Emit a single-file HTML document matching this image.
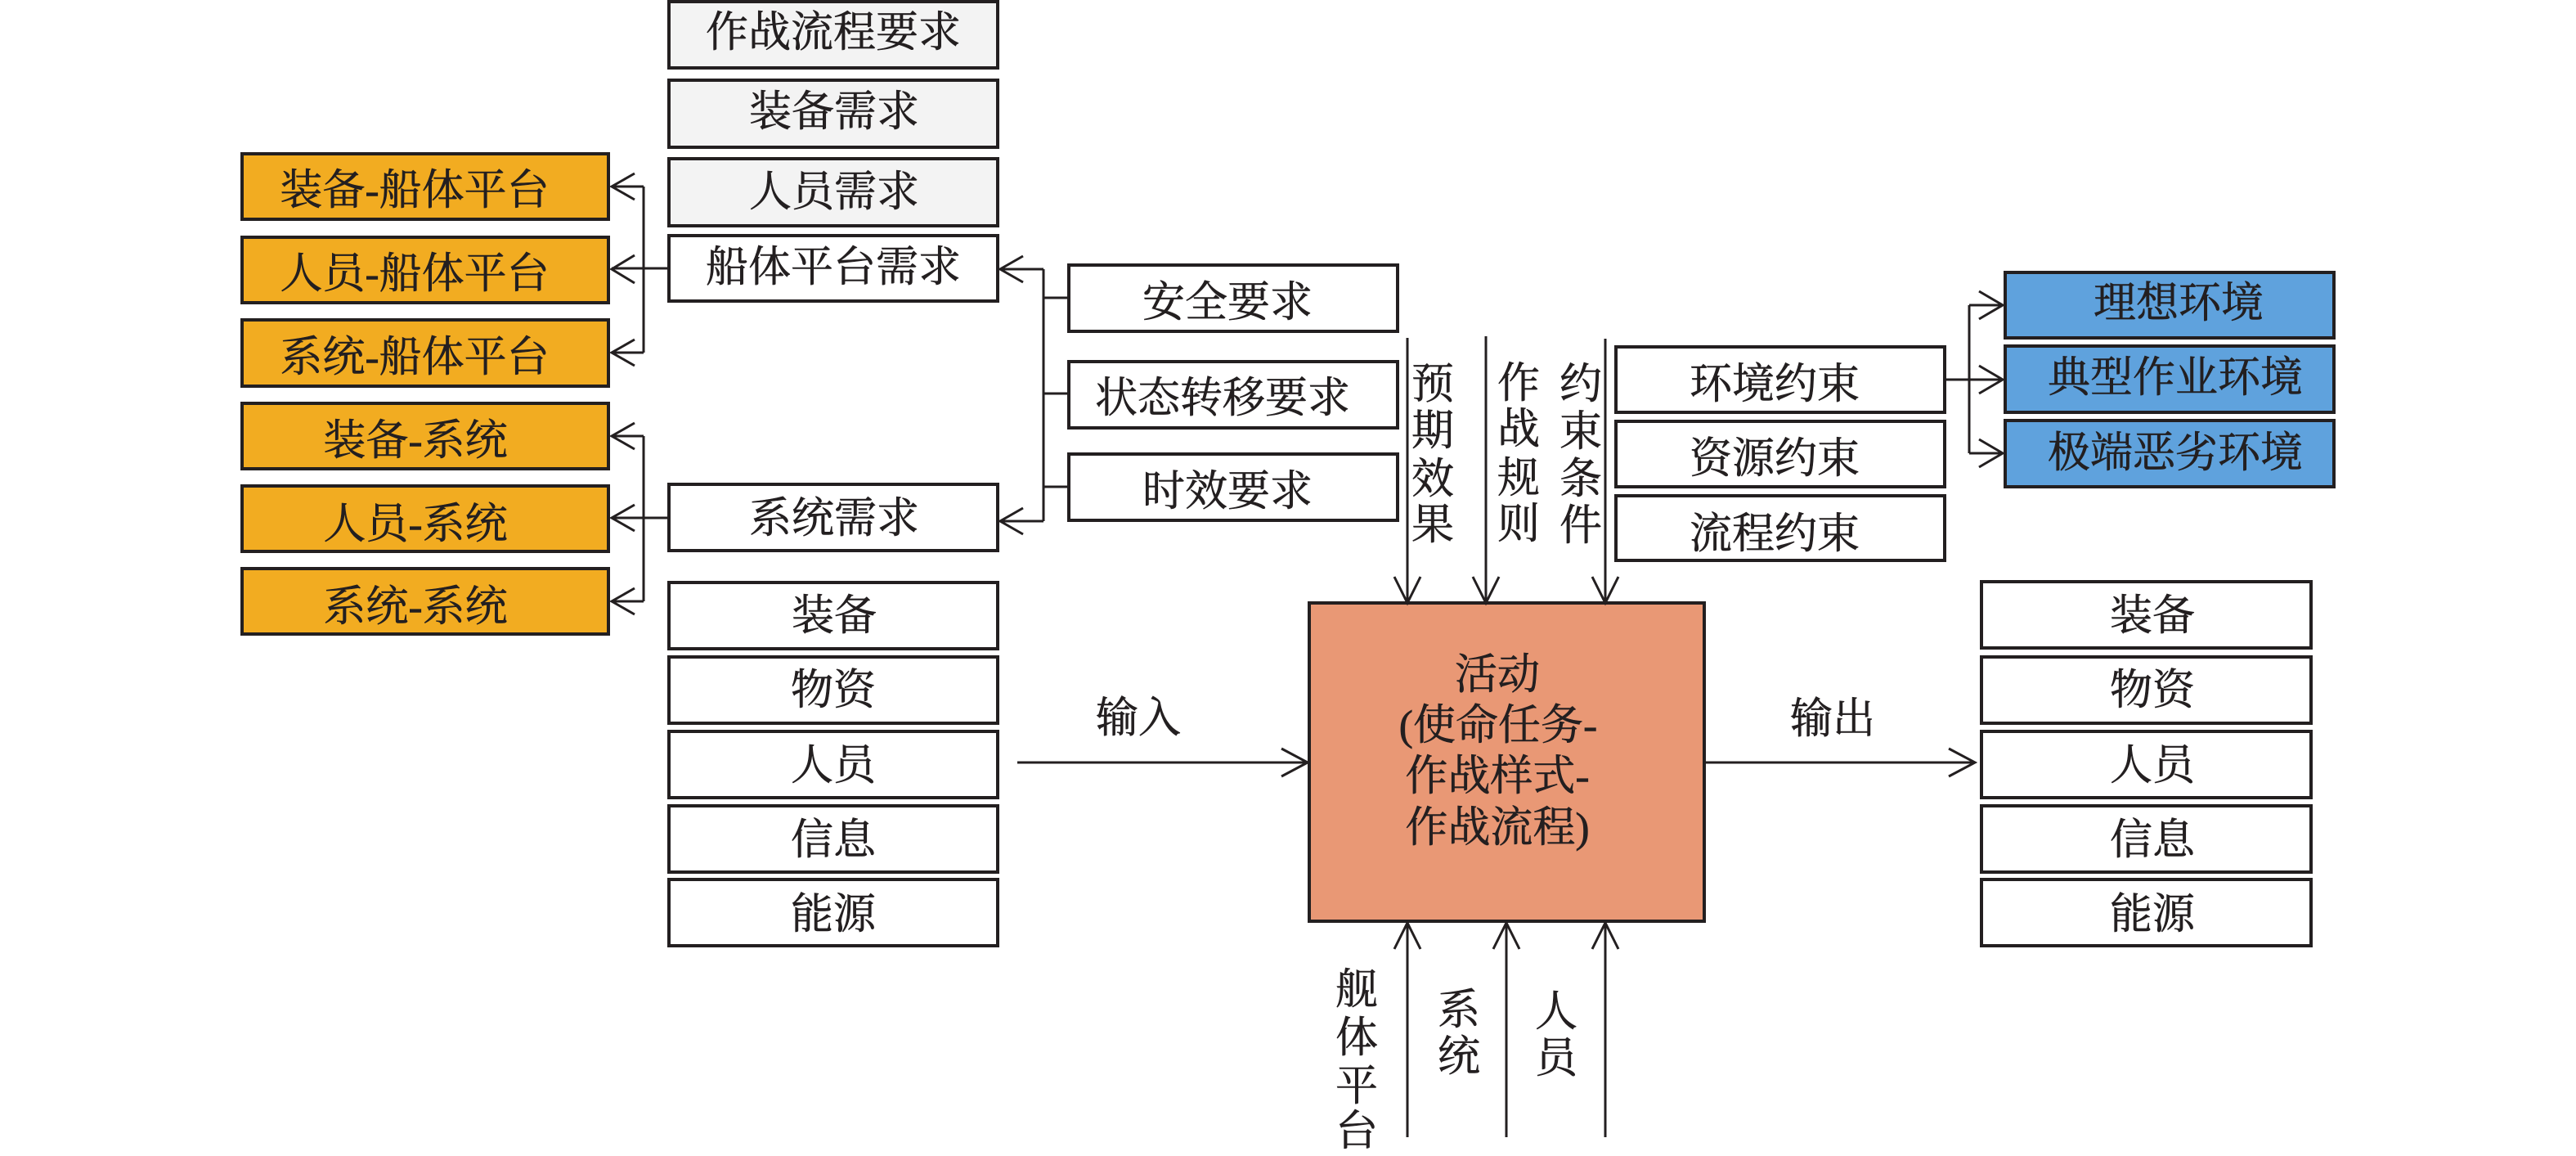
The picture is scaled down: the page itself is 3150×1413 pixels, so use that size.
<!DOCTYPE html>
<html><head><meta charset="utf-8"><style>
html,body{margin:0;padding:0;background:#fff}
svg{display:block}
text{font-family:"Liberation Serif","Noto Serif CJK SC",serif;font-size:52px;fill:#231f20;stroke:#231f20;stroke-width:.6;text-anchor:middle;dominant-baseline:alphabetic}
.b{stroke:#231f20;stroke-width:4;fill:#fff}
.g{fill:#f3f3f3}.o{fill:#f2ac21}.s{fill:#5fa2dd}.c{fill:#e99875}
.l{stroke:#231f20;stroke-width:3;fill:none}
</style></head><body>
<svg width="3150" height="1413" viewBox="0 0 3150 1413" xmlns="http://www.w3.org/2000/svg">
<rect width="3150" height="1413" fill="#fff"/>
<!-- grey -->
<rect class="b g" x="818" y="2" width="402" height="81"/>
<rect class="b g" x="818" y="98" width="402" height="82"/>
<rect class="b g" x="818" y="194" width="402" height="82"/>
<rect class="b" x="818" y="288" width="402" height="80"/>
<rect class="b" x="818" y="592" width="402" height="81"/>
<!-- input -->
<rect class="b" x="818" y="712" width="402" height="81"/>
<rect class="b" x="818" y="803" width="402" height="81"/>
<rect class="b" x="818" y="894" width="402" height="81"/>
<rect class="b" x="818" y="985" width="402" height="81"/>
<rect class="b" x="818" y="1075" width="402" height="81"/>
<!-- output -->
<rect class="b" x="2423" y="711" width="403" height="81"/>
<rect class="b" x="2423" y="803" width="403" height="81"/>
<rect class="b" x="2423" y="894" width="403" height="81"/>
<rect class="b" x="2423" y="985" width="403" height="81"/>
<rect class="b" x="2423" y="1075" width="403" height="81"/>
<!-- orange -->
<rect class="b o" x="296" y="188" width="448" height="80"/>
<rect class="b o" x="296" y="290" width="448" height="80"/>
<rect class="b o" x="296" y="391" width="448" height="81"/>
<rect class="b o" x="296" y="493" width="448" height="80"/>
<rect class="b o" x="296" y="594" width="448" height="80"/>
<rect class="b o" x="296" y="695" width="448" height="80"/>
<!-- requirements -->
<rect class="b" x="1307" y="324" width="402" height="81"/>
<rect class="b" x="1307" y="442" width="402" height="81"/>
<rect class="b" x="1307" y="555" width="402" height="81"/>
<!-- constraints -->
<rect class="b" x="1976" y="424" width="402" height="80"/>
<rect class="b" x="1976" y="515" width="402" height="80"/>
<rect class="b" x="1976" y="606" width="402" height="79"/>
<!-- blue -->
<rect class="b s" x="2452" y="333" width="402" height="80"/>
<rect class="b s" x="2452" y="423" width="402" height="81"/>
<rect class="b s" x="2452" y="514" width="402" height="81"/>
<!-- central -->
<rect class="b c" x="1601" y="737" width="483" height="389"/>

<!-- left connectors -->
<path class="l" d="M819 328H748M787 228V431M787 228H748M787 431H748"/>
<path class="l" d="M776 212L748 228L776 244M776 312L748 329L776 346M776 415L748 431L776 447"/>
<path class="l" d="M819 633H748M787 533V735M787 533H748M787 735H748"/>
<path class="l" d="M776 517L748 533L776 549M776 617L748 633L776 649M776 719L748 735L776 751"/>
<!-- right-of-needs connectors -->
<path class="l" d="M1307 364H1276M1307 481H1276M1307 595H1276M1276 329V637M1276 329H1223M1276 637H1223"/>
<path class="l" d="M1251 313L1223 329L1251 345M1251 621L1223 637L1251 653"/>
<!-- top vertical arrows -->
<path class="l" d="M1721 413V737M1817 411V737M1963 414V737"/>
<path class="l" d="M1705 705L1721 737L1737 705M1801 705L1817 737L1833 705M1947 705L1963 737L1979 705"/>
<!-- constraint to blue -->
<path class="l" d="M2378 464H2449M2408 373V554M2408 373H2449M2408 554H2449"/>
<path class="l" d="M2420 356L2449 373L2420 390M2420 447L2449 464L2420 481M2420 537L2449 554L2420 571"/>
<!-- input / output arrows -->
<path class="l" d="M1244 932H1599M1567 915L1599 932L1567 949"/>
<path class="l" d="M2084 932H2415M2383 915L2415 932L2383 949"/>
<!-- bottom arrows -->
<path class="l" d="M1721 1390V1128M1842 1390V1128M1963 1390V1128"/>
<path class="l" d="M1705 1160L1721 1128L1737 1160M1826 1160L1842 1128L1858 1160M1947 1160L1963 1128L1979 1160"/>

<!-- text -->
<text x="1019" y="57">作战流程要求</text>
<text x="1020" y="154">装备需求</text>
<text x="1020" y="252">人员需求</text>
<text x="1019" y="344">船体平台需求</text>
<text x="1020" y="651">系统需求</text>
<text x="1020" y="770">装备</text>
<text x="1019" y="861">物资</text>
<text x="1019" y="953">人员</text>
<text x="1019" y="1044">信息</text>
<text x="1019" y="1135">能源</text>
<text x="2632" y="770">装备</text>
<text x="2632" y="861">物资</text>
<text x="2632" y="953">人员</text>
<text x="2632" y="1044">信息</text>
<text x="2632" y="1135">能源</text>
<text x="507" y="250">装备-船体平台</text>
<text x="507" y="352">人员-船体平台</text>
<text x="507" y="454">系统-船体平台</text>
<text x="508" y="556">装备-系统</text>
<text x="508" y="658">人员-系统</text>
<text x="508" y="759">系统-系统</text>
<text x="1501" y="387">安全要求</text>
<text x="1495" y="504">状态转移要求</text>
<text x="1501" y="618">时效要求</text>
<text x="2170" y="487">环境约束</text>
<text x="2170" y="578">资源约束</text>
<text x="2170" y="670">流程约束</text>
<text x="2664" y="388">理想环境</text>
<text x="2660" y="479">典型作业环境</text>
<text x="2660" y="571">极端恶劣环境</text>
<text x="1752" y="487">预</text><text x="1752" y="544">期</text><text x="1752" y="603">效</text><text x="1752" y="659">果</text>
<text x="1857" y="486">作</text><text x="1857" y="542">战</text><text x="1857" y="602">规</text><text x="1857" y="658">则</text>
<text x="1933" y="487">约</text><text x="1933" y="545">束</text><text x="1933" y="603">条</text><text x="1933" y="660">件</text>
<text x="1392" y="895">输入</text>
<text x="2241" y="896">输出</text>
<text x="1831" y="842">活动</text>
<text x="1832" y="904">(使命任务-</text>
<text x="1831" y="966">作战样式-</text>
<text x="1831" y="1029">作战流程)</text>
<text x="1659" y="1227">舰</text><text x="1659" y="1286">体</text><text x="1659" y="1345">平</text><text x="1659" y="1400">台</text>
<text x="1784" y="1252">系</text><text x="1784" y="1309">统</text>
<text x="1903" y="1254">人</text><text x="1903" y="1311">员</text>
</svg>
</body></html>
